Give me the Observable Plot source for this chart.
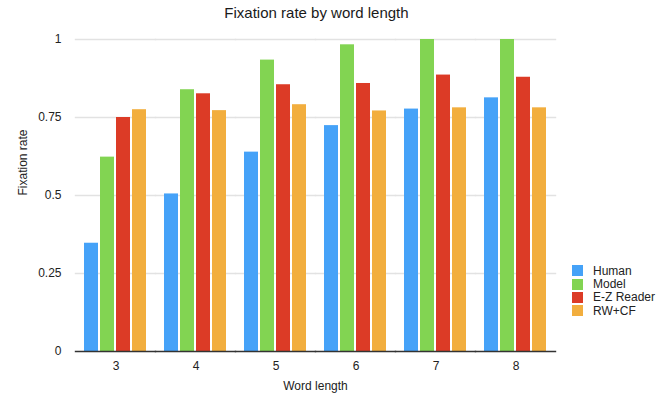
<!DOCTYPE html>
<html>
<head>
<meta charset="utf-8">
<script src="https://cdn.jsdelivr.net/npm/d3@7"></script>
<script src="https://cdn.jsdelivr.net/npm/@observablehq/plot@0.6"></script>
<style>
  html, body { margin: 0; padding: 0; background: #fff; }
  #wrap { position: relative; width: 667px; height: 393px; font-family: "Liberation Sans", Arial, Helvetica, sans-serif; color: #222; }
  #title { position: absolute; top: 5px; left: 0; width: 633px; text-align: center; font-size: 15px; line-height: 15px; color: #1a1a1a; }
  #xlabel { position: absolute; top: 380px; left: 0; width: 631px; text-align: center; font-size: 12px; line-height: 12px; color: #222; }
  #legend { position: absolute; left: 572px; top: 264px; font-size: 12px; color: #222; }
  .row { display: flex; align-items: center; height: 13.4px; }
  .sw { width: 11px; height: 11px; margin-right: 10px; }
</style>
</head>
<body>
<div id="wrap">
  <div id="chart"></div>
  <div id="title">Fixation rate by word length</div>
  <div id="xlabel">Word length</div>
  <div id="legend"></div>
</div>
<script>
const lengths = [3, 4, 5, 6, 7, 8];
const series = ["Human", "Model", "E-Z Reader", "RW+CF"];
const human = [0.347, 0.505, 0.639, 0.724, 0.777, 0.813];
const model = [0.623, 0.839, 0.934, 0.983, 1.0, 1.0];
const ezReader = [0.75, 0.826, 0.855, 0.859, 0.886, 0.879];
const rwcf = [0.775, 0.772, 0.791, 0.771, 0.781, 0.781];
const yTicks = [0, 0.25, 0.5, 0.75, 1];
const colors = ["#45a2f8", "#82d452", "#dc3b26", "#f2ae3e"];

const valuesBySeries = [human, model, ezReader, rwcf];
const rows = lengths.flatMap((len, i) =>
  series.map((s, j) => ({ length: len, series: s, value: valuesBySeries[j][i] }))
);

const chart = Plot.plot({
  width: 667,
  height: 393,
  marginLeft: 74,
  marginRight: 110,
  marginTop: 39,
  marginBottom: 42,
  style: { fontFamily: "'Liberation Sans', Arial, Helvetica, sans-serif", fontSize: "12px", background: "white", color: "#222" },
  fx: { domain: lengths, paddingInner: 0.19, paddingOuter: 0.1, label: null },
  x: { domain: series, paddingInner: 0.1, paddingOuter: 0, axis: null },
  y: { domain: [0, 1], axis: null },
  color: { domain: series, range: colors },
  marks: [
    Plot.ruleY(yTicks.filter(t => t > 0), { stroke: "#e2e2e2", strokeWidth: 1.5, insetLeft: -8.2, insetRight: -8.2 }),
    Plot.barY(rows, { fx: "length", x: "series", y: "value", fill: "series" }),
    Plot.ruleY([0], { stroke: "#333", strokeWidth: 1.5, insetLeft: -8.2, insetRight: -8.2 }),
    Plot.axisY({ ticks: yTicks, tickFormat: d => String(d), tickSize: 0, tickPadding: 22, label: null, fill: "#222" }),
    Plot.text(["Fixation rate"], { text: d => d, facetAnchor: "left", frameAnchor: "left", dx: -60, rotate: -90, fill: "#222" }),
    Plot.axisFx({ anchor: "bottom", tickSize: 0, tickPadding: 10, label: null, fill: "#222" })
  ]
});
document.getElementById("chart").appendChild(chart);

const legend = document.getElementById("legend");
series.forEach((s, i) => {
  const row = document.createElement("div");
  row.className = "row";
  const sw = document.createElement("span");
  sw.className = "sw";
  sw.style.background = colors[i];
  const label = document.createElement("span");
  label.textContent = s;
  row.appendChild(sw);
  row.appendChild(label);
  legend.appendChild(row);
});
</script>
</body>
</html>
